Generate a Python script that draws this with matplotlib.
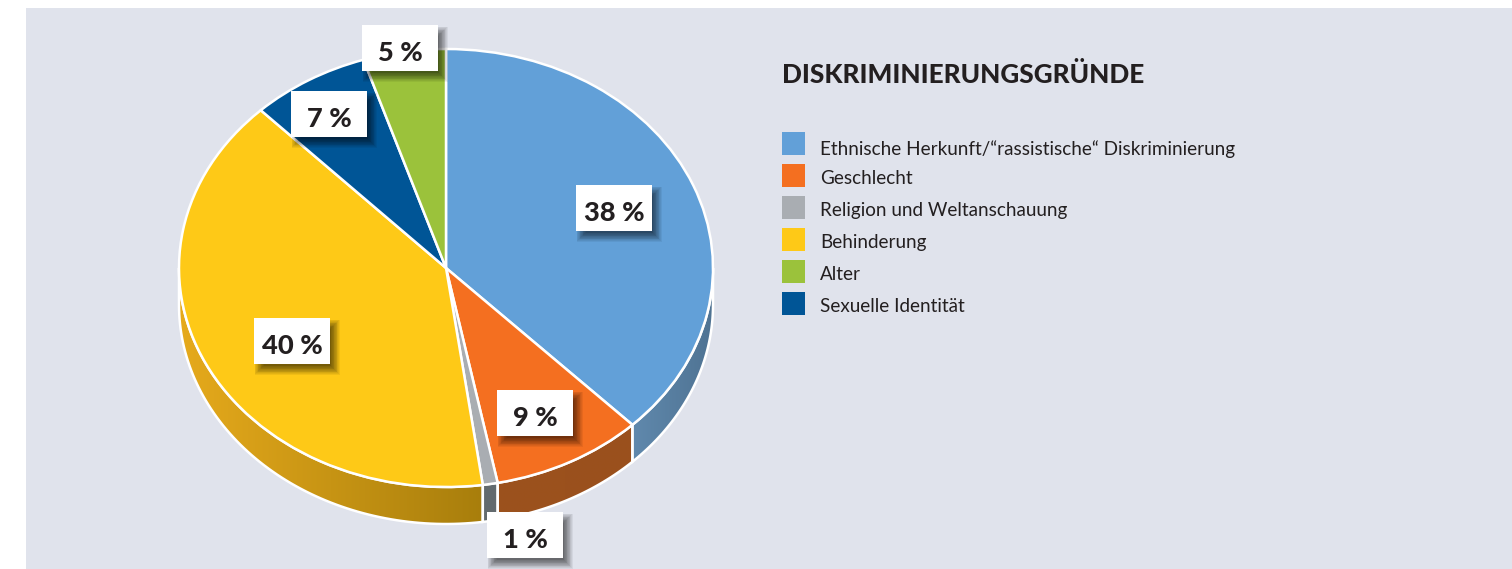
import numpy as np
import matplotlib
matplotlib.use("Agg")
import matplotlib.pyplot as plt
from matplotlib.patches import Rectangle, Polygon

categories = ["Ethnische Herkunft/“rassistische“ Diskriminierung", "Geschlecht",
              "Religion und Weltanschauung", "Behinderung", "Alter", "Sexuelle Identität"]
values = [37.7, 9.2, 0.9, 40.0, 5.0, 7.2]
# drawing order around the pie, clockwise from the top
pie_order = [0, 1, 2, 3, 5, 4]
colors = ["#62a0d8", "#f46f20", "#a9adb2", "#fec917", "#9bc23b", "#005596"]
wall_left = ["#6089ad", "#9c521d", "#626a6e", "#e6aa1c", "#7d9a30", "#00447a"]
wall_right = ["#4f7393", "#9a501d", "#626a6e", "#a87e0c", "#7d9a30", "#00447a"]
title = "DISKRIMINIERUNGSGRÜNDE"
label_text = ["38 %", "9 %", "1 %", "40 %", "5 %", "7 %"]
label_xy = [(614, 208), (535, 413), (525, 535), (292, 341), (400, 48), (329, 114)]
swatch_top = [132, 164, 196, 228, 260, 292]
text_base = [155, 184, 216, 248, 280, 312]

W, H = 1512, 569
CX, CY, RX, RY, DEPTH = 446, 268, 267, 219, 37
BG = "#e0e3ec"
INK = "#231f20"
FONT = "Lato"

fig = plt.figure(figsize=(W / 100, H / 100), dpi=100, facecolor="white")

bg = fig.add_axes([0, 0, 1, 1], zorder=0)
bg.set_xlim(0, W); bg.set_ylim(H, 0); bg.axis("off")
bg.add_patch(Rectangle((26, 8), W - 26, H - 8, fc=BG, ec="none"))

# pie axes: one data unit is one radius, horizontally and vertically
ax = fig.add_axes([0, 0, 1, 1], zorder=1)
ax.patch.set_alpha(0)
ordered = [values[i] for i in pie_order]
ax.pie(ordered, colors=[colors[i] for i in pie_order], startangle=90, counterclock=False,
       radius=1, wedgeprops=dict(edgecolor="white", linewidth=1.8, zorder=3))
xlim = ((0 - CX) / RX, (W - CX) / RX)
ylim = ((CY - H) / RY, (CY - 0) / RY)

d = DEPTH / RY
start = 0.0
total = sum(ordered)
for i, v in zip(pie_order, ordered):
    end = start + v / total * 360
    a, b = max(start, 90), min(end, 270)
    if b > a:
        t = np.radians(np.linspace(a, b, 80))
        top = np.c_[np.sin(t), np.cos(t)]
        bot = (top - [0, d])[::-1]
        poly = Polygon(np.r_[top, bot], closed=True, fc="none", ec="none", transform=ax.transData)
        ax.add_patch(poly)
        c0 = np.array(matplotlib.colors.to_rgb(wall_left[i]))
        c1 = np.array(matplotlib.colors.to_rgb(wall_right[i]))
        x0, x1 = top[:, 0].min(), top[:, 0].max()
        grad = np.linspace(0, 1, 256)[None, :, None] * (c1 - c0) + c0
        im = ax.imshow(grad, extent=(x0, x1, -1 - d, 0), aspect="auto", zorder=1, interpolation="bilinear")
        im.set_clip_path(poly)
        ax.add_patch(Polygon(np.r_[top, bot], closed=True, fc="none", ec="white", lw=1.8, zorder=2))
    start = end
ax.set_aspect("auto")
ax.set_xlim(*xlim); ax.set_ylim(*ylim)
ax.set_position([0, 0, 1, 1])
ax.axis("off")

ov = fig.add_axes([0, 0, 1, 1], zorder=2)
ov.patch.set_alpha(0)
ov.set_xlim(0, W); ov.set_ylim(H, 0); ov.axis("off")

BW, BH = 76, 46
for txt, (x, y) in zip(label_text, label_xy):
    for g in np.arange(4.5, -5, -0.75):
        ov.add_patch(Rectangle((x - BW / 2 + 5 - g, y - BH / 2 + 6 - g), BW + 2 * g, BH + 2 * g,
                               fc="black", ec="none", alpha=0.055, zorder=2))
    ov.add_patch(Rectangle((x - BW / 2, y - BH / 2), BW, BH, fc="white", ec="none", zorder=3))
    ov.text(x, y + 12.5, txt, ha="center", va="baseline", fontsize=19.6, fontweight=900,
            family=FONT, color=INK, zorder=4)

ov.text(782, 83, title, ha="left", va="baseline", fontsize=18.8, fontweight=900,
        family=FONT, color=INK)
for i, name in enumerate(categories):
    ov.add_patch(Rectangle((782, swatch_top[i]), 23, 23, fc=colors[i], ec="none"))
    ov.text(820, text_base[i], name, ha="left", va="baseline", fontsize=13.55,
            family=FONT, color=INK)

fig.savefig("out.png", dpi=100)
